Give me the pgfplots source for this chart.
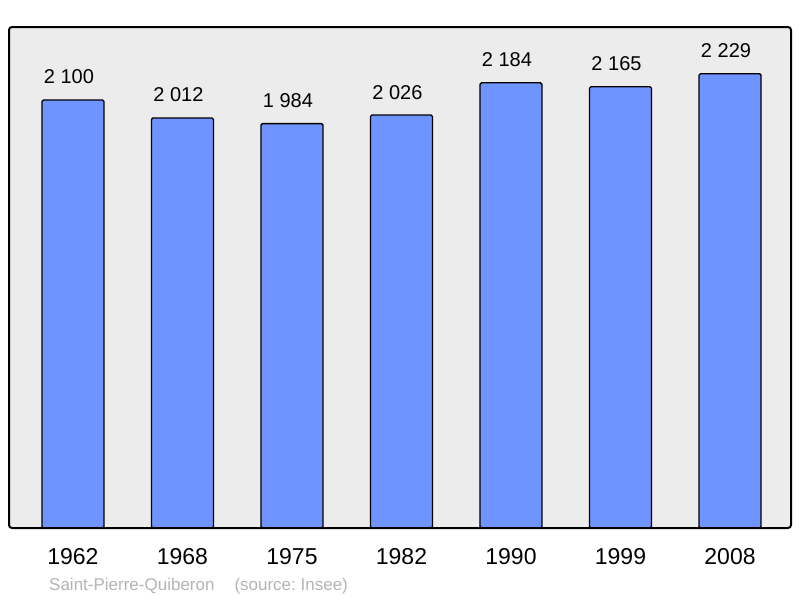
\documentclass[border=0pt]{standalone}
\usepackage{pgfplots}
\pgfplotsset{compat=1.18}
\usepackage{fontspec}
\setmainfont{Liberation Sans}
\definecolor{barblue}{HTML}{7094FF}
\definecolor{bggray}{HTML}{ECECEC}
\definecolor{srcgray}{HTML}{B4B4B4}
\begin{document}
\frenchspacing
\begin{tikzpicture}[x=1pt,y=1pt]
\useasboundingbox (-9,-70) rectangle (791,528);
\begin{axis}[
  at={(0,0)}, anchor=south west,
  scale only axis, width=782pt, height=501pt,
  xmin=-0.584, xmax=6.557, ymin=0, ymax=2458,
  clip=false,
  axis line style={draw=none},
  axis background/.style={fill=bggray, rounded corners=3pt},
  major tick length=0pt,
  ytick=\empty,
  xtick={0,1,2,3,4,5,6},
  xticklabels={1962,1968,1975,1982,1990,1999,2008},
  xticklabel style={anchor=base, yshift=-36pt, font=\fontsize{23}{27}\selectfont},
  ybar, bar width=62pt,
  nodes near coords,
  nodes near coords style={anchor=base, yshift=16pt, xshift=-4pt, inner sep=0pt, font=\fontsize{20}{24}\selectfont,
    /pgf/number format/.cd, assume math mode=true, 1000 sep={\ }},
]
\addplot[fill=barblue, draw=black, line width=1.3pt, rounded corners=1.5pt] coordinates {
  (0,2100) (1,2012) (2,1984) (3,2026) (4,2184) (5,2165) (6,2229)
};
\draw[line width=2pt, rounded corners=3pt] (rel axis cs:0,0) rectangle (rel axis cs:1,1);
\node[anchor=base west, inner sep=0pt, text=srcgray, font=\fontsize{17}{20}\selectfont]
  at ([xshift=40pt,yshift=-62pt]rel axis cs:0,0) {Saint-Pierre-Quiberon\hspace{20pt}(source: Insee)};
\end{axis}
\end{tikzpicture}
\end{document}
